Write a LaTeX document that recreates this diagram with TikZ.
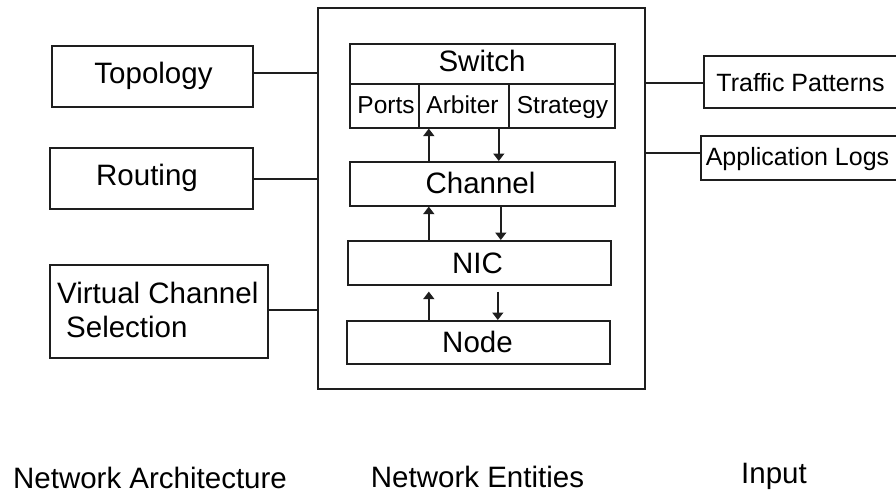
\documentclass[tikz,border=0pt]{standalone}
\usepackage{fontspec}
\setmainfont{Liberation Sans}
\usetikzlibrary{arrows.meta}
\definecolor{ink}{HTML}{1E1E1E}
\begin{document}
\begin{tikzpicture}[x=1pt,y=-1pt,
  box/.style={draw=ink,line width=1.6pt,rectangle,inner sep=0pt,anchor=north west},
  big/.style={font=\fontsize{29.5}{34}\selectfont,anchor=base,inner sep=0pt,text=black},
  small/.style={font=\fontsize{24.5}{29}\selectfont,anchor=base,inner sep=0pt,text=black},
  mid/.style={font=\fontsize{25}{29}\selectfont,anchor=base,inner sep=0pt,text=black},
  link/.style={draw=ink,line width=1.6pt},
  arr/.style={draw=ink,line width=1.6pt,-{Triangle[length=7.5pt,width=11pt]}}]
\useasboundingbox (0,0) rectangle (896,495);
\clip (0,0) rectangle (896,495);

% boxes
\node[box,minimum width=327pt,minimum height=381pt] (outer) at (317,7) {};
\node[box,minimum width=201pt,minimum height=61pt] (topo) at (51,45) {};
\node[box,minimum width=203pt,minimum height=61pt] (rout) at (49,147) {};
\node[box,minimum width=218pt,minimum height=93pt] (vcs) at (49,264) {};
\node[box,minimum width=265pt,minimum height=40pt] (swtop) at (349,43) {};
\node[box,minimum width=69pt,minimum height=44pt] (ports) at (349,83) {};
\node[box,minimum width=90pt,minimum height=44pt] (arb) at (418,83) {};
\node[box,minimum width=106pt,minimum height=44pt] (strat) at (508,83) {};
\node[box,minimum width=265pt,minimum height=44pt] (chan) at (349,161) {};
\node[box,minimum width=263pt,minimum height=44pt] (nic) at (347,240) {};
\node[box,minimum width=263pt,minimum height=43pt] (nod) at (346,320) {};
\node[box,minimum width=220pt,minimum height=52pt] (traf) at (703,55) {};
\node[box,minimum width=220pt,minimum height=44pt] (logs) at (700,135) {};

% texts
\node[big] (topoT) at (153.5,83) {Topology};
\node[big] (routT) at (147,185) {Routing};
\node[big,anchor=base west] (vcsT1) at (57,303) {Virtual Channel};
\node[big,anchor=base west] (vcsT2) at (66,337) {Selection};
\node[big] (swT) at (482,71) {Switch};
\node[small] (portsT) at (386,113) {Ports};
\node[small] (arbT) at (462.5,113) {Arbiter};
\node[small] (stratT) at (562.5,113) {Strategy};
\node[big] (chanT) at (480.5,193) {Channel};
\node[big] (nicT) at (477.5,273) {NIC};
\node[big] (nodT) at (477.5,352) {Node};
\node[mid] (trafT) at (800.5,91) {Traffic Patterns};
\node[mid] (logsT) at (797.5,165) {Application Logs};
\node[big] (lab1) at (150,488) {Network Architecture};
\node[big] (lab2) at (477.5,487) {Network Entities};
\node[big] (lab3) at (774,483) {Input};

% side connectors
\draw[link] ([yshift=3.5pt]topo.east) -- ([yshift=3.5pt]topo.east -| outer.west);
\draw[link] ([yshift=-0.5pt]rout.east) -- ([yshift=-0.5pt]rout.east -| outer.west);
\draw[link] ([yshift=1.5pt]vcs.east) -- ([yshift=1.5pt]vcs.east -| outer.west);
\draw[link] ([yshift=-1pt]outer.east |- traf.west) -- ([yshift=-1pt]traf.west);
\draw[link] ([yshift=5pt]outer.east |- logs.west) -- ([yshift=5pt]logs.west);

% inner arrows
\draw[arr] ([xshift=-53.5pt]chan.north) -- ([xshift=-35pt]arb.south);
\draw[arr] ([xshift=35pt]arb.south) -- ([xshift=16.5pt]chan.north);
\draw[arr] ([xshift=-50.5pt]nic.north) -- ([xshift=-53.5pt]chan.south);
\draw[arr] ([xshift=18.5pt]chan.south) -- ([xshift=21.5pt]nic.north);
\draw[arr] ([xshift=-49.5pt]nod.north) -- ([xshift=-50.5pt,yshift=-6pt]nic.south);
\draw[arr] ([xshift=18.5pt,yshift=-6pt]nic.south) -- ([xshift=19.5pt]nod.north);
\end{tikzpicture}
\end{document}
